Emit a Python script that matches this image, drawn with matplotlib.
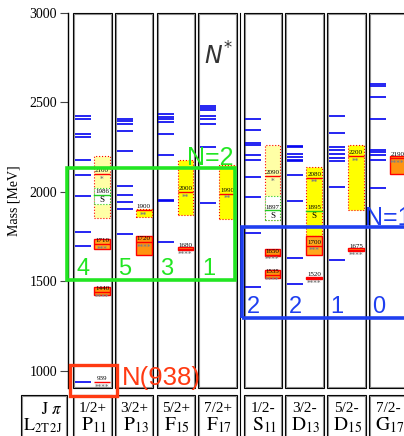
import matplotlib.pyplot as plt
import matplotlib.transforms as mtransforms
from matplotlib.patches import Rectangle

plt.rcParams['mathtext.fontset'] = 'stix'

# partial waves (columns)
jpi = ['1/2+', '3/2+', '5/2+', '7/2+', '1/2-', '3/2-', '5/2-', '7/2-']
waves = ['P', 'P', 'F', 'F', 'S', 'D', 'D', 'G']
wave_idx = ['11', '13', '15', '17', '11', '13', '15', '17']

# quark model masses per column [MeV]
model = [
    [940, 1700, 1778, 1975, 2095, 2179, 2306, 2324, 2410, 2425],
    [1764, 1905, 1946, 1983, 2035, 2229, 2342, 2380, 2398, 2408],
    [1719, 1948, 1955, 2208, 2326, 2391, 2408, 2421, 2436],
    [1940, 2251, 2382, 2408, 2426, 2460, 2470, 2480],
    [1471, 1769, 1972, 2082, 2180, 2205, 2262, 2272, 2345, 2408],
    [1486, 1633, 1950, 2097, 2172, 2178, 2197, 2214, 2250, 2256],
    [1620, 2026, 2172, 2192, 2212, 2236, 2253, 2331, 2426],
    [2022, 2177, 2205, 2223, 2235, 2408, 2532, 2592, 2602],
]

# PDG resonances: column, mass, range, star rating
exp_col = [0, 0, 0, 0, 1, 1, 2, 2, 3, 4, 4, 4, 5, 5, 5, 6, 6, 7]
exp_mass = [939, 1440, 1710, 2100, 1720, 1900, 1680, 2000, 1990,
            1535, 1650, 2090, 1520, 1700, 2080, 1675, 2200, 2190]
exp_lo = [939, 1425, 1680, 1855, 1650, 1862, 1676, 1870, 1850,
          1521, 1640, 1844, 1516, 1648, 1755, 1672, 1900, 2101]
exp_hi = [939, 1472, 1740, 2200, 1755, 1905, 1690, 2180, 2150,
          1564, 1682, 2263, 1527, 1754, 2141, 1685, 2263, 2201]
exp_stars = [4, 4, 3, 1, 4, 2, 4, 2, 2, 4, 4, 1, 4, 3, 2, 4, 2, 4]

# SAPHIR-type states marked "S"
s_col = [0, 4, 5]
s_mass = [1986, 1897, 1895]
s_lo = [1935, 1844, 1895]
s_hi = [2025, 1975, 1895]

# oscillator bands
band_n = ['N=2', 'N=1']
band_lo = [1508, 1296]
band_hi = [2134, 1806]
band_counts = [[4, 5, 3, 1], [2, 2, 1, 0]]

fill = {1: '#ffffa6', 2: '#ffff00', 3: '#ffa81e', 4: '#ff9410'}
GREEN = '#22e622'
BLUE = '#1f3ff0'
RED = '#ff3a12'

fig = plt.figure(figsize=(4.04, 4.36), dpi=100)
ax = fig.add_axes([68 / 404, 48 / 436, 352 / 404, 375 / 436])
ax.set_xlim(0, 352 / 41.7)
ax.set_ylim(905, 3000)
for s in ['top', 'right', 'bottom']:
    ax.spines[s].set_visible(False)
ax.spines['left'].set_linewidth(1.0)
ax.set_xticks([])
ax.set_yticks([1000, 1500, 2000, 2500, 3000])
ax.tick_params(axis='y', length=6, width=0.8, pad=2, color='#444444')
for lab in ax.get_yticklabels():
    lab.set_fontfamily('Liberation Serif')
    lab.set_fontsize(10)
ax.set_ylabel('Mass [MeV]', family='Liberation Serif', fontsize=10, labelpad=6)

W = 0.923
px_x = 1 / 41.7
px_y = 2095 / 375


def col_left(i):
    return 0.127 + i + (0.087 if i >= 4 else 0)


hdr = mtransforms.blended_transform_factory(ax.transData, ax.transAxes)


def double_box(x, y, w, h, transform, dy):
    ax.add_patch(Rectangle((x, y), w, h, fill=False, ec='black', lw=0.8,
                           transform=transform, clip_on=False, zorder=1))
    ax.add_patch(Rectangle((x + px_x, y + dy), w - 2 * px_x, h - 2 * dy, fill=False,
                           ec='#8a8a8a', lw=0.8, transform=transform, clip_on=False, zorder=1))


# columns and header cells
for i in range(8):
    x0 = col_left(i)
    double_box(x0, 905, W, 2095, ax.transData, px_y)
    double_box(x0, -0.3, W, 0.3 - 0.0187, hdr, 1 / 375)
    ax.text(x0 + W / 2, -0.055, jpi[i], transform=hdr, ha='center', va='center',
            family='Liberation Serif', fontsize=11)
    ax.text(x0 + W / 2 + 0.03, -0.1, r'$\mathrm{%s}_{%s}$' % (waves[i], wave_idx[i]),
            transform=hdr, ha='center', va='center', fontsize=14)

double_box(-1.127, -0.3, 1.096, 0.3 - 0.0187, hdr, 1 / 375)
ax.text(-0.15, -0.055, r'$\mathrm{J}\ \pi$', transform=hdr, ha='right', va='center', fontsize=12)
ax.text(-1.08, -0.1, r'$\mathrm{L}_{\mathrm{2T\,2J}}$', transform=hdr, ha='left',
        va='center', fontsize=13)
ax.plot([4.125, 4.125], [-0.3, 1.0], transform=hdr, color='black', lw=0.8, clip_on=False)

# model states
for i, masses in enumerate(model):
    x0 = col_left(i)
    for m in masses:
        ax.plot([x0 + 0.04, x0 + 0.42], [m, m], color='#0000f0', lw=1.2, zorder=3,
                solid_capstyle='butt')

# experimental states, widest first
order = sorted(range(len(exp_mass)), key=lambda k: exp_lo[k] - exp_hi[k])
for k in order:
    x0 = col_left(exp_col[k]) + 0.5
    w = 0.38
    lo, hi, m, st = exp_lo[k], exp_hi[k], exp_mass[k], exp_stars[k]
    if hi > lo:
        solid = st >= 3
        ax.add_patch(Rectangle((x0, lo), w, hi - lo, fc=fill[st], ec='red',
                               lw=1.0 if solid else 0.8, ls='-' if solid else ':', zorder=2))
    ax.plot([x0, x0 + w], [m, m], color='red', lw=1.0, zorder=4, solid_capstyle='butt')
    ax.annotate(str(m), (x0 + w / 2, m), xytext=(0, 0.6), textcoords='offset points',
                ha='center', va='bottom', family='Liberation Serif', fontsize=5, zorder=5)
    ax.annotate('*' * st, (x0 + w / 2, m), xytext=(0, -1.2), textcoords='offset points',
                ha='center', va='top', family='DejaVu Sans', fontsize=5, color='#808080',
                fontweight='bold', zorder=5)

for k in range(len(s_mass)):
    x0 = col_left(s_col[k]) + 0.5
    w = 0.38
    if s_hi[k] > s_lo[k]:
        ax.add_patch(Rectangle((x0, s_lo[k]), w, s_hi[k] - s_lo[k], fc='white',
                               ec='#22cc22', lw=0.8, ls=':', zorder=4))
    ax.plot([x0, x0 + w], [s_mass[k], s_mass[k]], color='#22cc22', lw=1.0, zorder=5)
    ax.annotate(str(s_mass[k]), (x0 + w / 2, s_mass[k]), xytext=(0, 0.6),
                textcoords='offset points', ha='center', va='bottom',
                family='Liberation Serif', fontsize=5, zorder=6)
    ax.annotate('S', (x0 + w / 2, s_mass[k]), xytext=(0, -1.0), textcoords='offset points',
                ha='center', va='top', family='Liberation Serif', fontsize=6.5, zorder=6)

# oscillator band frames
band_x = [(-0.017, 4.01), (4.165, 8.8)]
band_c = [GREEN, BLUE]
for b in range(2):
    xa, xb = band_x[b]
    ax.add_patch(Rectangle((xa, band_lo[b]), xb - xa, band_hi[b] - band_lo[b], fill=False,
                           ec=band_c[b], lw=2.6, zorder=7, clip_on=False))
    cols = range(4) if b == 0 else range(4, 8)
    for j, i in enumerate(cols):
        ax.text(col_left(i) + 0.24, band_lo[b] + 28, str(band_counts[b][j]), ha='center',
                va='baseline', color=band_c[b], family='Liberation Sans', fontsize=17,
                zorder=8)

ax.text(3.98, 2151, band_n[0], ha='right', va='baseline', color=GREEN,
        family='Liberation Sans', fontsize=18, zorder=8)
ax.text(7.12, 1816, band_n[1], ha='left', va='baseline', color=BLUE,
        family='Liberation Sans', fontsize=18, zorder=8, clip_on=False)

# nucleon ground state
ax.add_patch(Rectangle((0.048, 860), 1.127, 174, fill=False, ec=RED, lw=2.4,
                       zorder=7, clip_on=False))
ax.text(1.295, 922, 'N(938)', ha='left', va='baseline', color=RED,
        family='Liberation Sans', fontsize=18.5, zorder=8)

ax.text(3.6, 2709, r'$N^{*}$', ha='center', va='baseline', color='#333333',
        fontsize=17, math_fontfamily='dejavusans', zorder=8)

fig.savefig('out.png', dpi=100)
